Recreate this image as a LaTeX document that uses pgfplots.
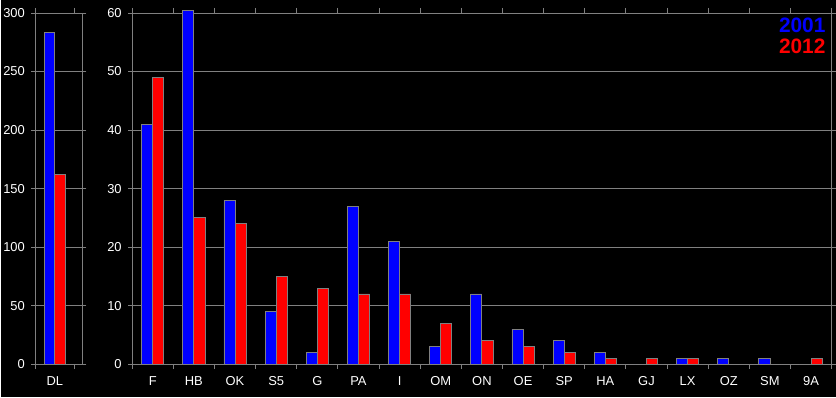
\documentclass[border=0pt]{standalone}
\usepackage{pgfplots}
\pgfplotsset{compat=1.18}
\usepackage{fontspec}
\setmainfont{Liberation Sans}
\definecolor{gridgray}{RGB}{128,128,128}
\definecolor{xblue}{RGB}{0,0,255}
\definecolor{xred}{RGB}{255,0,0}
\begin{document}
\begin{tikzpicture}
\fill[black] (0,0) rectangle (836bp,398bp);
\pgfplotsset{
  mystyle/.style={
    scale only axis, anchor=south west, height=352bp,
    ymin=0, ybar=0pt, bar width=0.27,
    axis line style={draw=gridgray, line width=0.8bp},
    ymajorgrids, grid style={gridgray, line width=0.8bp},
    tick style={gridgray, line width=0.8bp},
    tick align=outside, major tick length=4bp, minor tick length=5bp,
    major x tick style={draw=none},
    ticklabel style={white, font=\fontsize{13}{13}\selectfont},
    xticklabel style={yshift=-5bp},
    yticklabel style={xshift=-3bp},
    /pgf/number format/assume math mode=true,
    enlargelimits=false, clip=false,
  }
}
\begin{axis}[mystyle, at={(34bp,33bp)}, width=47bp,
  xmin=-0.5, xmax=0.705, ymax=300, ytick={0,50,...,300},
  xtick={0}, xticklabels={DL}, minor xtick={-0.5,0.5}]
\addplot[fill=xblue, draw=gridgray, line width=0.8bp] coordinates {(0,283)};
\addplot[fill=xred, draw=gridgray, line width=0.8bp] coordinates {(0,162)};
\end{axis}
\begin{axis}[mystyle, at={(131bp,33bp)}, width=701bp,
  xmin=-0.5, xmax=16.5, ymax=60, ytick={0,10,...,60},
  xtick={0,...,16},
  xticklabels={F,HB,OK,S5,G,PA,I,OM,ON,OE,SP,HA,GJ,LX,OZ,SM,9A},
  minor xtick={-0.5,0.5,...,16.5},
  legend style={at={(rel axis cs:1,1)}, anchor=north east, draw=none, fill=none,
    font=\bfseries\fontsize{21}{24}\selectfont, cells={anchor=east},
    inner sep=1bp, row sep=1bp, xshift=-3bp, yshift=-2bp},
  legend image code/.code={}]
\addplot[fill=xblue, draw=gridgray, line width=0.8bp] coordinates {
(0,41) (1,60.5) (2,28) (3,9) (4,2) (5,27) (6,21) (7,3) (8,12) (9,6) (10,4) (11,2) (12,0) (13,1) (14,1) (15,1) (16,0)};
\addlegendentry{\textcolor{xblue}{2001}}
\addplot[fill=xred, draw=gridgray, line width=0.8bp] coordinates {
(0,49) (1,25) (2,24) (3,15) (4,13) (5,12) (6,12) (7,7) (8,4) (9,3) (10,2) (11,1) (12,1) (13,1) (14,0) (15,0) (16,1)};
\addlegendentry{\textcolor{xred}{2012}}
\end{axis}
\end{tikzpicture}
\end{document}
